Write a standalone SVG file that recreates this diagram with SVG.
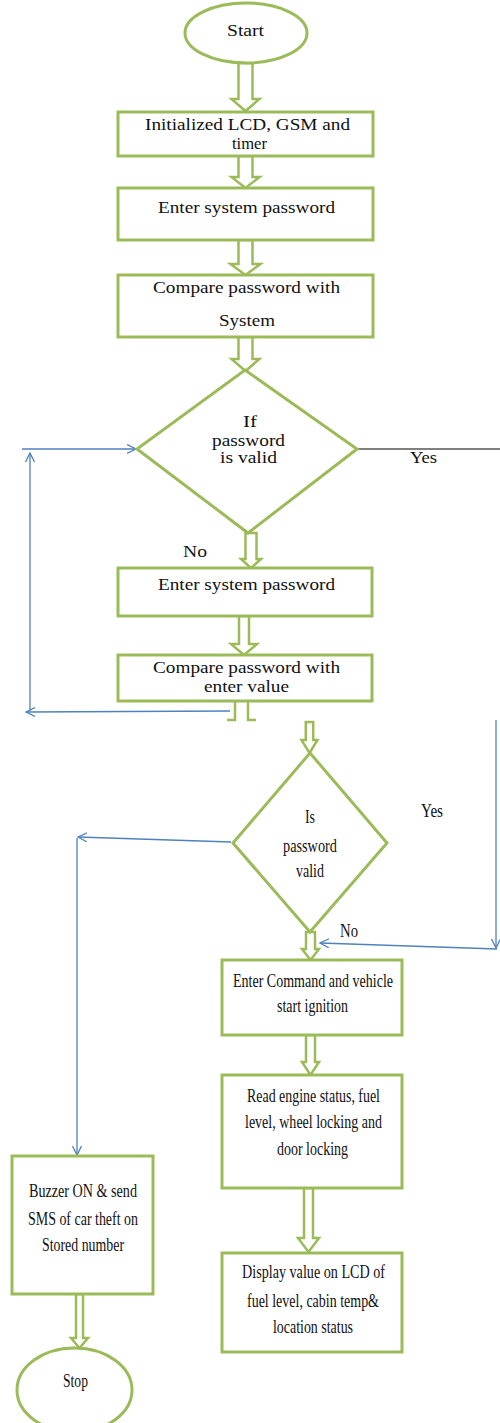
<svg xmlns="http://www.w3.org/2000/svg" width="500" height="1423" viewBox="0 0 500 1423">
<style>
.n{fill:#fff;stroke:#9bbb59;stroke-width:3}
.a{fill:#fff;stroke:#9bbb59;stroke-width:2.5;stroke-linejoin:miter}
.as{fill:none;stroke:#9bbb59;stroke-width:2.5}
.b{fill:none;stroke:#4f81bd;stroke-width:1.3}
.k{fill:none;stroke:#000;stroke-width:1}
text{font-family:"Liberation Serif","Times New Roman",serif;fill:#111;text-anchor:middle}
.t{font-size:16px}
.c{font-size:19px}
</style>
<defs>
<marker id="ah" markerWidth="12" markerHeight="12" refX="9" refY="5" orient="auto" markerUnits="userSpaceOnUse" viewBox="0 0 12 12">
<path d="M0,0.5 L9,5 L0,9.5" fill="none" stroke="#4f81bd" stroke-width="1.3"/>
</marker>
</defs>
<g id="connectors">
<path class="a" d="M238.5,63 V99 H231.5 L245.5,111 L259.5,99 H252.5 V63 Z"/>
<path class="a" d="M238.5,156 V177 H231.5 L245.5,188 L259.5,177 H252.5 V156 Z"/>
<path class="a" d="M238.5,240 V264 H230.5 L245.5,275 L260.5,264 H252.5 V240 Z"/>
<path class="a" d="M238.5,337 V359 H231.5 L245.5,371 L259.5,359 H252.5 V337 Z"/>
<path class="a" d="M245.5,533 V559 H241 L251,568 L261,559 H256.5 V533 Z"/>
<path class="a" d="M239,616 V644 H231 L244,655 L257,644 H249 V616 Z"/>
<path class="as" d="M235,701 V720 H227 M248,701 V720 H256"/>
<path class="a" d="M305.8,722 V740 H301.5 L309.5,753 L317.5,740 H313.2 V722 Z"/>
<path class="a" d="M306,932 V949 H302 L310.5,960 L319,949 H315 V932 Z"/>
<path class="a" d="M306,1035 V1062 H302 L310.5,1075 L319,1062 H315 V1035 Z"/>
<path class="a" d="M304,1188 V1238 H298 L308.5,1252 L319,1238 H313 V1188 Z"/>
<path class="a" d="M76,1294 V1338 H71 L79.5,1348 L88,1338 H83 V1294 Z"/>
<path class="k" d="M357,449 H500"/>
<path class="b" d="M230,711 L26,712" marker-end="url(#ah)"/>
<path class="b" d="M30,711 V453" marker-end="url(#ah)"/>
<path class="b" d="M22,449 H136" marker-end="url(#ah)"/>
<path class="b" d="M496,720 V948" marker-end="url(#ah)"/>
<path class="b" d="M497,949 L320,943" marker-end="url(#ah)"/>
<path class="b" d="M231,842 L78,837" marker-end="url(#ah)"/>
<path class="b" d="M77,838 V1155" marker-end="url(#ah)"/>
<text class="t" x="423.5" y="463" textLength="27" lengthAdjust="spacingAndGlyphs">Yes</text>
<text class="t" x="195" y="557" textLength="24" lengthAdjust="spacingAndGlyphs">No</text>
<text class="c" x="432" y="817" textLength="22" lengthAdjust="spacingAndGlyphs">Yes</text>
<text class="c" x="349" y="937" textLength="18" lengthAdjust="spacingAndGlyphs">No</text>
</g>
<g id="start">
<ellipse class="n" cx="246" cy="33" rx="61" ry="30"/>
<text class="t" x="245.5" y="36" textLength="37" lengthAdjust="spacingAndGlyphs">Start</text>
</g>
<g id="init">
<rect class="n" x="118" y="112" width="255" height="44"/>
<text class="t" x="247.5" y="130" textLength="205" lengthAdjust="spacingAndGlyphs">Initialized LCD, GSM and</text>
<text class="t" x="249.5" y="149" textLength="35" lengthAdjust="spacingAndGlyphs">timer</text>
</g>
<g id="enter1">
<rect class="n" x="118" y="188" width="255" height="52"/>
<text class="t" x="246.5" y="213" textLength="177" lengthAdjust="spacingAndGlyphs">Enter system password</text>
</g>
<g id="compare1">
<rect class="n" x="118" y="275" width="255" height="62"/>
<text class="t" x="246.5" y="293" textLength="187" lengthAdjust="spacingAndGlyphs">Compare password with</text>
<text class="t" x="247" y="326" textLength="56" lengthAdjust="spacingAndGlyphs">System</text>
</g>
<g id="decision1">
<polygon class="n" points="245,370 357,449 248,533 137,449"/>
<text class="t" x="250" y="427" textLength="14" lengthAdjust="spacingAndGlyphs">If</text>
<text class="t" x="248.5" y="446" textLength="73" lengthAdjust="spacingAndGlyphs">password</text>
<text class="t" x="248.5" y="463" textLength="57" lengthAdjust="spacingAndGlyphs">is valid</text>
</g>
<g id="enter2">
<rect class="n" x="118" y="568" width="254" height="48"/>
<text class="t" x="246.5" y="590" textLength="177" lengthAdjust="spacingAndGlyphs">Enter system password</text>
</g>
<g id="compare2">
<rect class="n" x="118" y="655" width="254" height="46"/>
<text class="t" x="246.5" y="673" textLength="187" lengthAdjust="spacingAndGlyphs">Compare password with</text>
<text class="t" x="246.5" y="692" textLength="85" lengthAdjust="spacingAndGlyphs">enter value</text>
</g>
<g id="decision2">
<polygon class="n" points="310,753 387,843 310,932 233,843"/>
<text class="c" x="310" y="823" textLength="10" lengthAdjust="spacingAndGlyphs">Is</text>
<text class="c" x="310" y="852" textLength="54" lengthAdjust="spacingAndGlyphs">password</text>
<text class="c" x="310" y="877" textLength="28" lengthAdjust="spacingAndGlyphs">valid</text>
</g>
<g id="command">
<rect class="n" x="222" y="960" width="180" height="75"/>
<text class="c" x="313" y="987" textLength="160" lengthAdjust="spacingAndGlyphs">Enter Command and vehicle</text>
<text class="c" x="312.5" y="1012" textLength="71" lengthAdjust="spacingAndGlyphs">start ignition</text>
</g>
<g id="read">
<rect class="n" x="222" y="1075" width="180" height="113"/>
<text class="c" x="313.5" y="1102" textLength="133" lengthAdjust="spacingAndGlyphs">Read engine status, fuel</text>
<text class="c" x="313.5" y="1128" textLength="137" lengthAdjust="spacingAndGlyphs">level, wheel locking and</text>
<text class="c" x="312.5" y="1155" textLength="71" lengthAdjust="spacingAndGlyphs">door locking</text>
</g>
<g id="display">
<rect class="n" x="222" y="1253" width="180" height="99"/>
<text class="c" x="313.5" y="1278" textLength="143" lengthAdjust="spacingAndGlyphs">Display value on LCD of</text>
<text class="c" x="313" y="1307" textLength="132" lengthAdjust="spacingAndGlyphs">fuel level, cabin temp&amp;</text>
<text class="c" x="313" y="1333" textLength="80" lengthAdjust="spacingAndGlyphs">location status</text>
</g>
<g id="buzzer">
<rect class="n" x="12" y="1156" width="141" height="138"/>
<text class="c" x="83" y="1197" textLength="108" lengthAdjust="spacingAndGlyphs">Buzzer ON &amp; send</text>
<text class="c" x="83" y="1225" textLength="110" lengthAdjust="spacingAndGlyphs">SMS of car theft on</text>
<text class="c" x="83" y="1251" textLength="82" lengthAdjust="spacingAndGlyphs">Stored number</text>
</g>
<g id="stop">
<ellipse class="n" cx="74.5" cy="1390" rx="57.5" ry="42"/>
<text class="c" x="75.5" y="1387" textLength="25" lengthAdjust="spacingAndGlyphs">Stop</text>
</g>
</svg>
